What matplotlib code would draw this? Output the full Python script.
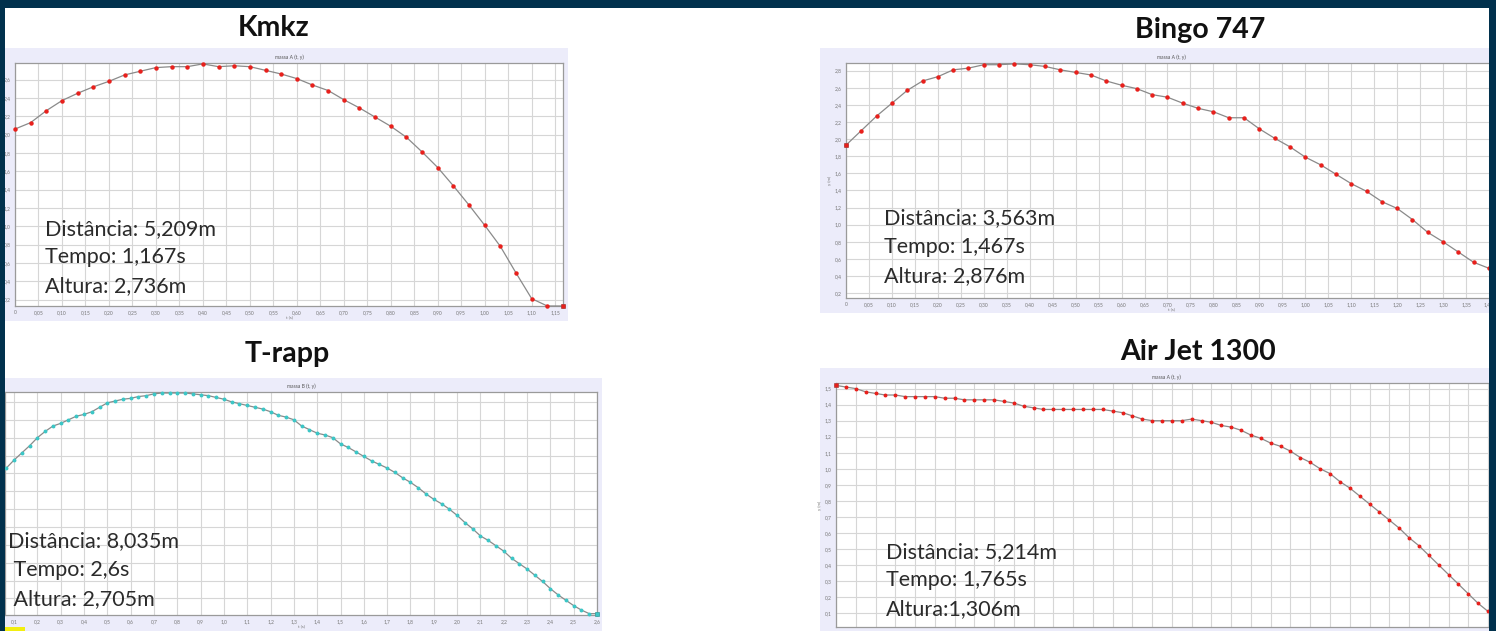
import numpy as np
import matplotlib
matplotlib.use("Agg")
import matplotlib.pyplot as plt
from matplotlib.patches import Rectangle
from matplotlib.ticker import MultipleLocator, FuncFormatter

W, H = 1496, 631

# Kmkz - massa A, frames at 30 fps
kmkz_fps = 30
kmkz_y = [2.06, 2.13, 2.26, 2.37, 2.45, 2.52, 2.58, 2.65, 2.69, 2.73, 2.74, 2.74,
          2.77, 2.74, 2.75, 2.74, 2.70, 2.66, 2.61, 2.54, 2.48, 2.38, 2.29, 2.19,
          2.09, 1.97, 1.81, 1.64, 1.44, 1.23, 1.01, 0.78, 0.49, 0.21, 0.13, 0.13]
kmkz_info = ["Distância: 5,209m", "Tempo: 1,167s", "Altura: 2,736m"]

# Bingo 747 - massa A, 30 fps (parte visível)
bingo_fps = 30
bingo_y = [1.93, 2.10, 2.27, 2.42, 2.57, 2.68, 2.73, 2.81, 2.83, 2.87, 2.87, 2.88,
           2.87, 2.85, 2.81, 2.78, 2.75, 2.68, 2.63, 2.59, 2.52, 2.49, 2.42, 2.36,
           2.32, 2.25, 2.25, 2.12, 2.01, 1.91, 1.79, 1.70, 1.59, 1.48, 1.39, 1.27,
           1.19, 1.06, 0.91, 0.80, 0.68, 0.56, 0.49]
bingo_info = ["Distância: 3,563m", "Tempo: 1,467s", "Altura: 2,876m"]

# T-rapp - massa B, 30 fps, primeiro quadro visível = 2
trapp_fps = 30
trapp_first = 2
trapp_y = [1.86, 1.95, 2.03, 2.11, 2.20, 2.27, 2.33, 2.36, 2.40, 2.44, 2.46, 2.49,
           2.54, 2.59, 2.61, 2.63, 2.64, 2.66, 2.67, 2.69, 2.70, 2.70, 2.70, 2.70,
           2.69, 2.68, 2.67, 2.65, 2.63, 2.60, 2.58, 2.56, 2.54, 2.52, 2.49, 2.45,
           2.43, 2.40, 2.33, 2.29, 2.25, 2.23, 2.20, 2.13, 2.09, 2.04, 1.99, 1.94,
           1.90, 1.86, 1.81, 1.75, 1.70, 1.64, 1.57, 1.51, 1.46, 1.40, 1.33, 1.25,
           1.18, 1.10, 1.05, 0.99, 0.93, 0.85, 0.79, 0.73, 0.66, 0.59, 0.51, 0.44,
           0.38, 0.32, 0.27, 0.23, 0.23]
trapp_info = ["Distância: 8,035m", " Tempo: 2,6s", " Altura: 2,705m"]

# Air Jet 1300 - massa A, 40 fps (parte visível)
airjet_fps = 40
airjet_y = [1.52, 1.51, 1.50, 1.48, 1.47, 1.46, 1.46, 1.45, 1.45, 1.45, 1.45, 1.44,
            1.44, 1.43, 1.43, 1.43, 1.43, 1.42, 1.41, 1.39, 1.38, 1.37, 1.37, 1.37,
            1.37, 1.37, 1.37, 1.37, 1.36, 1.35, 1.33, 1.31, 1.30, 1.30, 1.30, 1.30,
            1.31, 1.30, 1.29, 1.27, 1.26, 1.24, 1.21, 1.19, 1.16, 1.14, 1.11, 1.07,
            1.04, 1.00, 0.97, 0.92, 0.88, 0.83, 0.78, 0.73, 0.68, 0.63, 0.57, 0.52,
            0.46, 0.40, 0.34, 0.28, 0.22, 0.16, 0.11]
airjet_info = ["Distância: 5,214m", "Tempo: 1,765s", "Altura:1,306m"]

NAVY = "#01314d"
PANEL = "#ececfa"
GRID = "#d6d6d6"
LINE = "#8a8a8a"
RED = "#e8201c"
CYAN = "#3cc6c6"

plt.rcParams["font.family"] = ["Lato", "DejaVu Sans"]

fig = plt.figure(figsize=(W / 100, H / 100), dpi=100, facecolor="white")


def fbox(l, t, r, b):
    return [l / W, 1 - b / H, (r - l) / W, (b - t) / H]


def panel(l, t, r, b):
    fig.add_artist(Rectangle((l / W, 1 - b / H), (r - l) / W, (b - t) / H,
                             transform=fig.transFigure, facecolor=PANEL,
                             edgecolor="none", zorder=-5))


def comma(fmt):
    def f(v, pos):
        if abs(v) < 1e-9:
            return "0"
        return (fmt % v).replace(".", ",")
    return FuncFormatter(f)


def make_axes(box, xlim, ylim, xstep, ystep, xfmt, yfmt, subtitle):
    ax = fig.add_axes(fbox(*box))
    ax.set_facecolor("white")
    ax.set_xlim(*xlim)
    ax.set_ylim(*ylim)
    ax.xaxis.set_major_locator(MultipleLocator(xstep))
    ax.yaxis.set_major_locator(MultipleLocator(ystep))
    ax.xaxis.set_major_formatter(comma(xfmt))
    ax.yaxis.set_major_formatter(comma(yfmt))
    ax.tick_params(labelsize=3.6, colors="#777777", length=0, pad=3)
    ax.grid(True, color=GRID, lw=0.8)
    ax.set_axisbelow(True)
    for s in ax.spines.values():
        s.set_color("#9a9a9a")
        s.set_linewidth(0.9)
    ax.set_title(subtitle, fontsize=3.6, color="#555555", pad=3)
    return ax


def trace(ax, t, y, color, big_idx, ms):
    ax.plot(t, y, color=LINE, lw=0.9, zorder=3, clip_on=False)
    ax.plot(t, y, ls="none", marker="o", ms=ms, color=color, mec=color, zorder=4, clip_on=False)
    ax.plot(t[big_idx], y[big_idx], ls="none", marker="s", ms=ms + 1.2, color=color,
            mec="#aa4444" if color == RED else "#3a9a9a", mew=0.5, zorder=5, clip_on=False)


def info(x, y0, lines, dy):
    for i, s in enumerate(lines):
        fig.text(x / W, 1 - (y0 + i * dy) / H, s, fontsize=15.5, color="#2b2b2b",
                 ha="left", va="center", zorder=6)


def title(x, y, s):
    fig.text(x / W, 1 - y / H, s, fontsize=20.5, fontweight="bold", color="#111111",
             ha="center", va="center", zorder=6)


# --- Kmkz ---
panel(5, 48, 568, 321)
t = np.arange(len(kmkz_y)) / kmkz_fps
ax1 = make_axes((15, 63, 563, 306), (0, t[-1]), (0.13, 2.78), 0.05, 0.2, "%.2f", "%.1f", "massa A (t, y)")
ax1.set_xlabel("t (s)", fontsize=3.2, color="#777777", labelpad=0)
trace(ax1, t, np.array(kmkz_y), RED, -1, 2.2)
title(274, 28, "Kmkz")
info(45, 229, kmkz_info, 28.5)

# --- Bingo 747 ---
panel(820, 48, 1496, 313)
t = np.arange(len(bingo_y)) / bingo_fps
ax2 = make_axes((846, 63, 1496, 298), (0, t[-1] + 7 / 459), (0.143, 2.89), 0.05, 0.2, "%.2f", "%.1f", "massa A (t, y)")
ax2.set_ylabel("y (m)", fontsize=3.2, color="#777777", labelpad=2)
ax2.set_xlabel("t (s)", fontsize=3.2, color="#777777", labelpad=0)
trace(ax2, t, np.array(bingo_y), RED, 0, 2.2)
title(1200, 30, "Bingo 747")
info(884, 218, bingo_info, 29)

# --- T-rapp ---
panel(5, 378, 602, 640)
t = (np.arange(len(trapp_y)) + trapp_first) / trapp_fps
ax3 = make_axes((5, 392, 597, 615), (0.061, t[-1]), (0.215, 2.711), 0.1, 0.2, "%.1f", "%.1f", "massa B (t, y)")
ax3.tick_params(axis="y", labelleft=False)
ax3.set_xlabel("t (s)", fontsize=3.2, color="#777777", labelpad=0)
trace(ax3, t, np.array(trapp_y), CYAN, -1, 1.8)
title(287, 354, "T-rapp")
info(8, 541, trapp_info, 29)
fig.add_artist(Rectangle((5 / W, 0), 20 / W, 4 / H, transform=fig.transFigure,
                         facecolor="#f2ee10", edgecolor="none", zorder=7))

# --- Air Jet 1300 ---
panel(820, 368, 1496, 640)
t = np.arange(len(airjet_y)) / airjet_fps
ax4 = make_axes((836, 383, 1496, 627), (0, t[-1] + 0.02), (0.013, 1.535), 0.05, 0.1, "%.2f", "%.1f", "massa A (t, y)")
ax4.tick_params(axis="x", labelbottom=False)
ax4.set_ylabel("y (m)", fontsize=3.2, color="#777777", labelpad=2)
trace(ax4, t, np.array(airjet_y), RED, 0, 1.8)
title(1198, 352, "Air Jet 1300")
info(886, 552, airjet_info, 28.5)

# moldura escura do slide
for (l, b, w, h) in [(0, 0, 5, H), (1489, 0, 7, H), (0, H - 8, W, 8)]:
    fig.add_artist(Rectangle((l / W, b / H), w / W, h / H, transform=fig.transFigure,
                             facecolor=NAVY, edgecolor="none", zorder=20))

fig.savefig("out.png", dpi=100, facecolor="white")
